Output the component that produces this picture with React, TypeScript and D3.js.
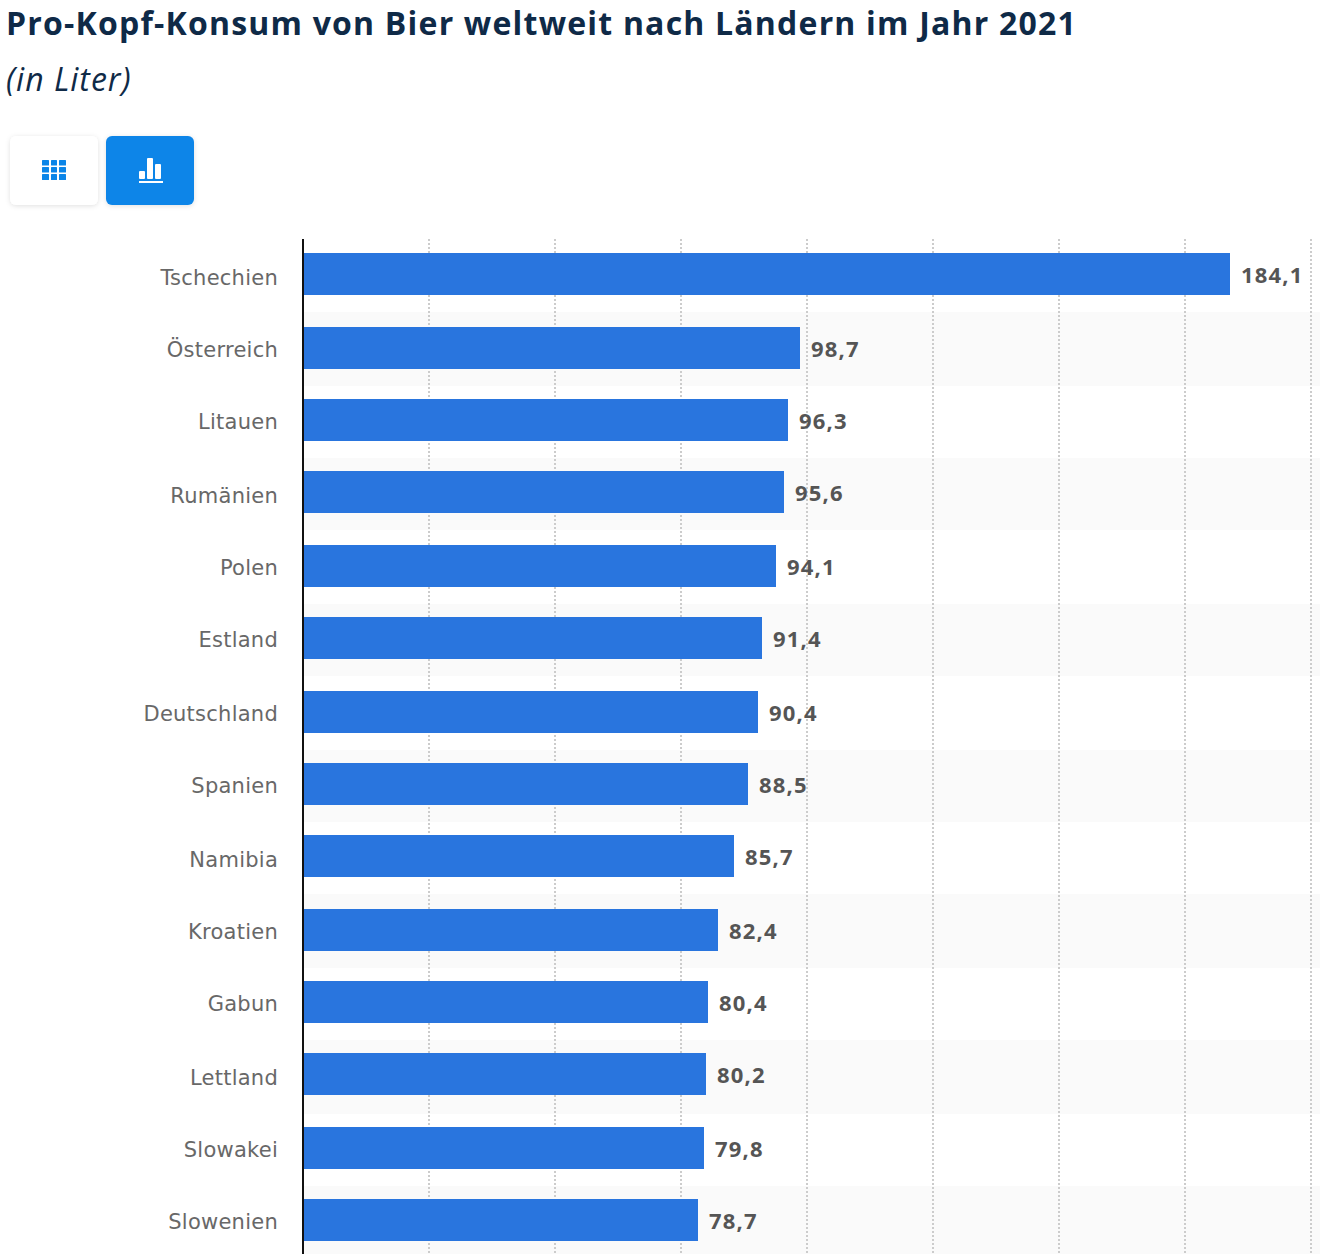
import React from 'react';
import * as d3 from 'd3';

const COUNTRIES = [
  'Tschechien', 'Österreich', 'Litauen', 'Rumänien', 'Polen', 'Estland', 'Deutschland',
  'Spanien', 'Namibia', 'Kroatien', 'Gabun', 'Lettland', 'Slowakei', 'Slowenien',
];
const VALUES = [184.1, 98.7, 96.3, 95.6, 94.1, 91.4, 90.4, 88.5, 85.7, 82.4, 80.4, 80.2, 79.8, 78.7];
const GRID_TICKS = [25, 50, 75, 100, 125, 150, 175, 200];

const TITLE = 'Pro-Kopf-Konsum von Bier weltweit nach Ländern im Jahr 2021';
const SUBTITLE = '(in Liter)';

const WIDTH = 1320;
const HEIGHT = 1254;
const AXIS_X = 303;
const ROW_STEP = 72.769;
const BAR_H = 42;
const FIRST_BAR = 253.4;
const LABEL_FONT = '"DejaVu Sans", sans-serif';
const VALUE_FONT = '"Open Sans", sans-serif';

const x = d3.scaleLinear().domain([0, 200]).range([302, 1310.2]);

// band scale: rows are exactly ROW_STEP tall, bars sit in the middle
const rowTop = FIRST_BAR - (ROW_STEP - BAR_H) / 2;
const barPad = 1 - BAR_H / ROW_STEP;
const y = d3.scaleBand<string>()
  .domain(COUNTRIES)
  .range([rowTop, rowTop + ROW_STEP * COUNTRIES.length])
  .paddingInner(barPad)
  .paddingOuter(barPad / 2);

// the source was a 2x capture, so edges land on every other pixel
const snapOdd = (v: number) => 2 * Math.round((v - 1) / 2) + 1;
const floorOdd = (v: number) => 2 * Math.floor((v - 1) / 2) + 1;
const snapEven = (v: number) => 2 * Math.round(v / 2);

function TableIcon() {
  const cols: [number, number][] = [[42, 7], [51, 6], [59, 7]];
  const rows: [number, number][] = [[160, 5.5], [167, 5.5], [174, 6]];
  return (
    <g fill="#0a85e8">
      {rows.map(([ry, rh]) => cols.map(([cx, cw]) => (
        <rect key={`${ry}-${cx}`} x={cx} y={ry} width={cw} height={rh} rx={0.5} />
      )))}
    </g>
  );
}

function ChartIcon() {
  return (
    <g fill="#fff">
      <rect x={139} y={171} width={6} height={8} rx={1} />
      <rect x={147} y={158} width={6} height={21} rx={1} />
      <rect x={155} y={164} width={6} height={15} rx={1} />
      <rect x={139} y={181} width={24} height={2} />
    </g>
  );
}

export default function App() {
  return (
    <svg
      width={WIDTH}
      height={HEIGHT}
      viewBox={`0 0 ${WIDTH} ${HEIGHT}`}
      style={{ position: 'absolute', left: 0, top: 0, display: 'block', background: '#fff' }}
    >
      <defs>
        <filter id="btnShadow" x="-20%" y="-20%" width="140%" height="140%">
          <feDropShadow dx="0" dy="1" stdDeviation="2.5" floodColor="#000" floodOpacity="0.12" />
        </filter>
      </defs>

      <text x={6} y={35} fontFamily='"Open Sans", sans-serif' fontWeight={700} fontSize={32} letterSpacing={1.2} fill="#0f2a47">
        {TITLE}
      </text>
      <text x={6} y={91} fontFamily='"Open Sans", sans-serif' fontStyle="italic" fontSize={32} letterSpacing={1} fill="#0f2a47">
        {SUBTITLE}
      </text>

      <rect x={10} y={136} width={88} height={69} rx={6} fill="#fff" filter="url(#btnShadow)" />
      <rect x={106} y={136} width={88} height={69} rx={6} fill="#0a85e8" filter="url(#btnShadow)" />
      <TableIcon />
      <ChartIcon />

      {/* alternating row stripes */}
      {COUNTRIES.map((c, i) => {
        if (i % 2 === 0) return null;
        const top = y(c)! - 13.57;
        const yTop = snapEven(top);
        return <rect key={c} x={AXIS_X} y={yTop} width={WIDTH - AXIS_X} height={snapEven(top + ROW_STEP) - yTop} fill="#fafafa" />;
      })}

      {GRID_TICKS.map(t => (
        <line
          key={t}
          x1={Math.round(x(t)) + 1}
          x2={Math.round(x(t)) + 1}
          y1={239}
          y2={HEIGHT}
          stroke="#cccccc"
          strokeWidth={2}
          strokeDasharray="2 2"
        />
      ))}

      {COUNTRIES.map((c, i) => {
        const top = snapOdd(y(c)!);
        const end = snapEven(x(VALUES[i]));
        return (
          <g key={c}>
            <text
              x={278}
              y={floorOdd(y(c)! + 23.6) + 8}
              textAnchor="end"
              fontFamily={LABEL_FONT}
              fontSize={21}
              letterSpacing={0.25}
              fill="#686868"
            >
              {c}
            </text>
            <rect x={AXIS_X} y={top} width={end - AXIS_X} height={BAR_H} fill="#2975de" />
            <text
              x={end + 11}
              y={top + 30}
              fontFamily={VALUE_FONT}
              fontWeight={700}
              fontSize={22}
              letterSpacing={1.2}
              fill="#555"
            >
              {VALUES[i].toFixed(1).replace('.', ',')}
            </text>
          </g>
        );
      })}

      <line x1={AXIS_X} x2={AXIS_X} y1={239} y2={HEIGHT} stroke="#111" strokeWidth={2} />
    </svg>
  );
}
